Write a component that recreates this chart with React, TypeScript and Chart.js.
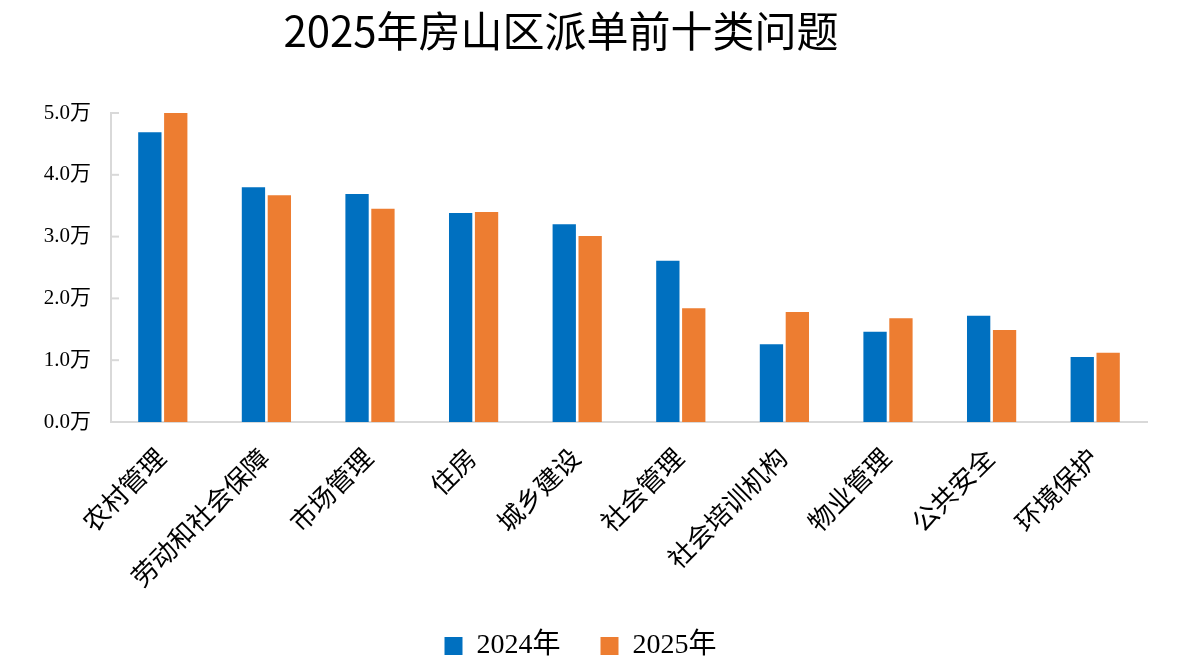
import React, { useEffect, useRef } from "react";
import { Chart, registerables } from "chart.js";

Chart.register(...registerables);

const TITLE = "2025年房山区派单前十类问题";
const categories = ["农村管理", "劳动和社会保障", "市场管理", "住房", "城乡建设", "社会管理", "社会培训机构", "物业管理", "公共安全", "环境保护"];
const series2024 = [4.69, 3.80, 3.69, 3.38, 3.20, 2.61, 1.26, 1.46, 1.72, 1.05];
const series2025 = [5.0, 3.67, 3.45, 3.40, 3.01, 1.84, 1.78, 1.68, 1.49, 1.12];
const seriesNames = ["2024年", "2025年"];
const yTickUnit = "万";

const FONT = "'Liberation Serif', 'Noto Sans CJK SC', serif";
const PLOT_BOTTOM = 422;
const BOTTOM_PAD = 0;

export default function App() {
  const ref = useRef<HTMLCanvasElement>(null);
  useEffect(() => {
    document.body.style.margin = "0";
    const innerTicks = {
      id: "innerTicks",
      afterDraw(chart: any) {
        const { ctx, chartArea } = chart;
        const y = chart.scales.y;
        ctx.save();
        ctx.strokeStyle = "#d9d9d9";
        ctx.lineWidth = 2;
        y.ticks.forEach((t: any) => {
          const py = y.getPixelForValue(t.value);
          ctx.beginPath();
          ctx.moveTo(chartArea.left, py);
          ctx.lineTo(chartArea.left + 8, py);
          ctx.stroke();
        });
        ctx.restore();
      },
    };
    const chart = new Chart(ref.current!, {
      type: "bar",
      data: {
        labels: categories,
        datasets: [
          { label: seriesNames[0], data: series2024, backgroundColor: "#0070C0", categoryPercentage: 0.5, barPercentage: 0.9 },
          { label: seriesNames[1], data: series2025, backgroundColor: "#ED7D31", categoryPercentage: 0.5, barPercentage: 0.9 },
        ],
      },
      options: {
        animation: false,
        responsive: true,
        maintainAspectRatio: false,
        layout: { padding: { top: 113, right: 33, bottom: BOTTOM_PAD, left: 14 } },
        plugins: {
          title: { display: false },
          tooltip: { enabled: false },
          legend: {
            position: "bottom",
            labels: {
              boxWidth: 18,
              boxHeight: 18,
              padding: 12,
              color: "#000",
              font: { family: FONT, size: 28 },
              generateLabels(ch: any) {
                const items = Chart.defaults.plugins.legend.labels.generateLabels(ch);
                return items.map((it: any, i: number) => ({
                  ...it,
                  text: i < items.length - 1 ? it.text + "    " : it.text,
                }));
              },
            },
          },
        },
        scales: {
          x: {
            offset: true,
            grid: { display: false, drawTicks: false },
            border: { color: "#d9d9d9", width: 2 },
            ticks: {
              maxRotation: 45,
              minRotation: 45,
              autoSkip: false,
              color: "#000",
              padding: 22,
              font: { family: FONT, size: 26 },
            },
            afterFit(scale: any) {
              const lh = scale.chart.legend ? scale.chart.legend.height : 50;
              scale.height = 670 - PLOT_BOTTOM - lh - BOTTOM_PAD;
            },
          },
          y: {
            min: 0,
            max: 5,
            grid: { display: false, drawTicks: false },
            border: { color: "#d9d9d9", width: 2 },
            ticks: {
              stepSize: 1,
              color: "#000",
              padding: 20,
              font: { family: FONT, size: 21 },
              callback: (v: any) => Number(v).toFixed(1) + yTickUnit,
            },
            afterFit(scale: any) {
              scale.width = 97;
            },
          },
        },
      },
      plugins: [innerTicks],
    });
    return () => chart.destroy();
  }, []);
  return (
    <div style={{ position: "relative", width: 1180, height: 670 }}>
      <div
        style={{
          position: "absolute",
          top: 1,
          left: 0,
          width: 1122,
          textAlign: "center",
          fontFamily: "'Noto Sans CJK SC', sans-serif",
          fontSize: 42,
          fontWeight: 400,
          color: "#000",
          lineHeight: "56px",
          zIndex: 1,
        }}
      >
        {TITLE}
      </div>
      <canvas ref={ref} />
    </div>
  );
}
